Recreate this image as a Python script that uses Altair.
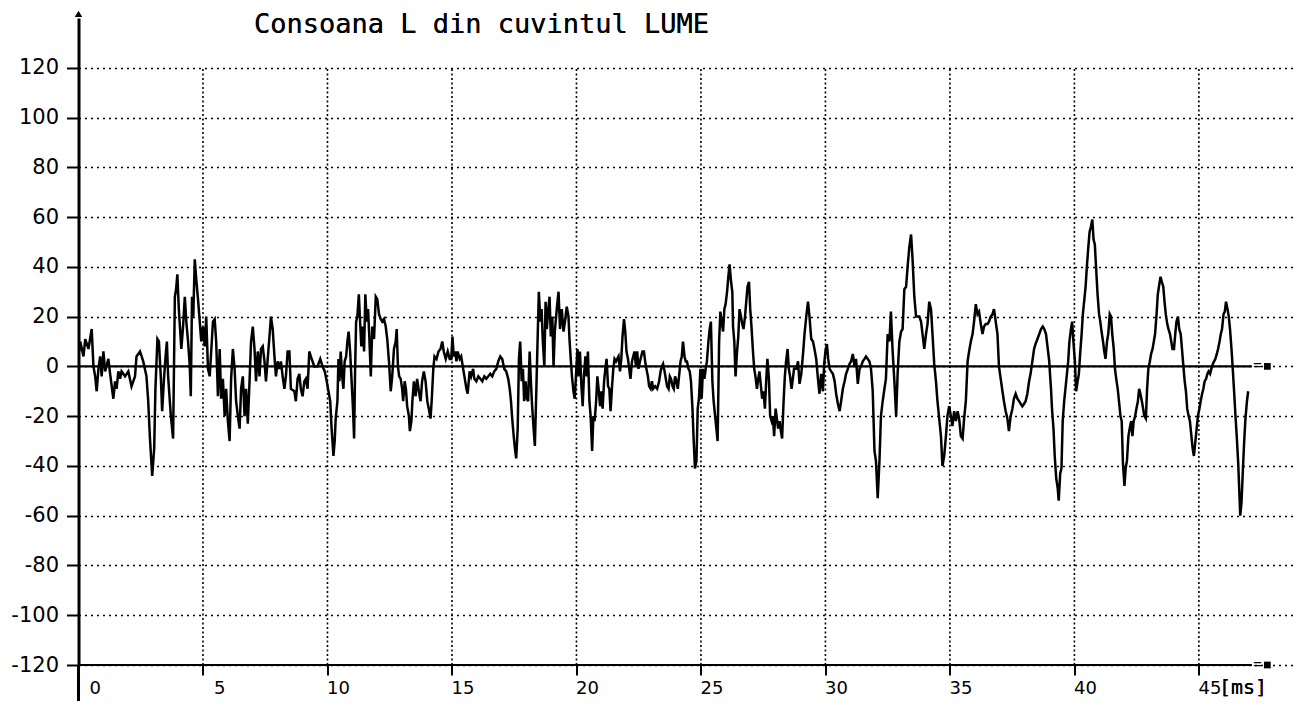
import altair as alt
import pandas as pd

# ---- waveform samples: time [ms] and amplitude ----
t_seg1 = [0.03,0.07,0.2,0.27,0.4,0.53,0.6,0.67,0.73,0.8,
          0.87,0.93,1.0,1.07,1.2,1.27,1.4,1.47,1.53,1.6,
          1.67,1.73,1.87,2.0,2.13,2.27,2.33,2.47,2.6,2.73,
          2.8,2.87,2.96,3.04,3.09,3.17,3.23,3.31,3.36,3.44,
          3.49,3.55,3.6,3.71,3.8,3.87,3.92,3.97,4.03,4.13,
          4.2,4.27,4.33,4.4,4.47,4.51,4.56,4.61,4.67,4.73,
          4.8,4.87,4.93,5.0,5.07,5.13,5.2,5.27,5.33,5.4,
          5.47,5.53,5.6,5.67,5.73,5.8,5.87,5.93,6.0,6.07,
          6.13,6.2,6.27,6.33,6.4,6.47,6.53,6.6,6.67,6.73,
          6.8,6.87,6.93,7.0,7.07,7.13,7.2,7.27,7.33,7.4,
          7.47,7.53,7.6,7.67,7.73,7.8,7.87,7.93,8.0,8.07,
          8.13,8.2,8.27,8.33,8.4,8.47,8.53,8.67,8.73,8.8,
          8.87,8.93,9.0,9.07,9.13,9.2,9.27,9.33,9.47]
v_seg1 = [6,10,4,11,7,15,0,-4,-10,-1,
          4,-4,6,-2,3,-3,-13,-6,-9,-2,
          -5,-2,-4,-2,-8,-4,4,6,2,-4,
          -14,-29,-44,-33,-9,11,10,-5,-18,-4,
          3,10,-4,-20,-29,28,31,37,23,7,
          16,28,18,10,0,-12,28,20,43,35,
          27,18,10,16,8,20,-1,-4,6,18,
          19,10,-12,7,-13,-5,-20,-9,-22,-30,
          -5,7,-1,-14,-20,-25,-9,-4,-20,-9,
          -23,-6,10,16,7,-6,6,-4,7,8,
          2,-6,3,12,20,15,4,-4,2,-1,
          2,-4,-9,-4,6,6,-9,-10,-14,-5,
          -3,-9,-12,-6,-5,-9,6,4,0]

t_seg2 = [9.6,9.71,9.8,9.89,9.97,10.04,10.11,10.16,10.24,10.29,
          10.33,10.4,10.44,10.48,10.53,10.59,10.64,10.69,10.75,10.8,
          10.85,10.91,10.96,11.02,11.07,11.11,11.15,11.2,11.26,11.31,
          11.36,11.42,11.47,11.52,11.58,11.63,11.68,11.74,11.8,11.87,
          11.94,12.0,12.07,12.14,12.2,12.27,12.34,12.4,12.47,12.54,
          12.6,12.67,12.74,12.78,12.83,12.88,12.94,13.0,13.04,13.1,
          13.15,13.2,13.27,13.31,13.37,13.41,13.47,13.54,13.6,13.67,
          13.74,13.8,13.87,13.94,14.01,14.07,14.14,14.19,14.25,14.3,
          14.38,14.46,14.54,14.61,14.67,14.75,14.83,14.91,14.97,15.02,
          15.07,15.13,15.18,15.23,15.31,15.37,15.45,15.5,15.58,15.63,
          15.71,15.77,15.85,15.9,15.98,16.06,16.14,16.22,16.3,16.38,
          16.46,16.54,16.62,16.7,16.78,16.86,16.94,17.02,17.1,17.18,
          17.26,17.32,17.37,17.42,17.48,17.53,17.58,17.64,17.69,17.74,
          17.8,17.85,17.9,17.96,18.01,18.06,18.12,18.17,18.22,18.28,
          18.33,18.39,18.44,18.49,18.55,18.6,18.65,18.71,18.76,18.81,
          18.87,18.92,18.97,19.03,19.08,19.13]
v_seg2 = [0,3,0,-2,-6,-10,-14,-24,-36,-30,
          -21,-14,3,-6,6,-4,-9,2,4,10,
          14,6,-4,-16,-29,-1,18,20,29,18,
          8,16,6,29,18,23,12,-4,16,11,
          28,27,21,19,18,19,16,11,2,-10,
          -4,7,10,15,0,-4,-5,-9,-14,-6,
          -9,-16,-20,-26,-22,-14,-6,-12,-5,-10,
          -14,-6,-2,-6,-14,-17,-21,-13,-1,4,
          3,6,7,10,6,3,6,3,3,12,
          4,6,2,6,3,4,-1,-4,-9,-11,
          -2,-4,-1,-5,-6,-4,-5,-6,-4,-5,
          -4,-3,-4,-2,-1,2,4,3,-1,-2,
          -5,-9,-14,-21,-28,-33,-37,-25,3,10,
          -6,-1,-14,-6,-13,-14,6,-6,-16,-25,
          -32,-9,11,30,18,23,10,0,26,15,
          23,28,12,20,0,14]

t_seg3 = [19.21,19.28,19.34,19.41,19.48,19.54,19.61,19.68,19.72,19.77,
          19.82,19.88,19.93,19.98,20.04,20.09,20.14,20.2,20.25,20.3,
          20.36,20.41,20.46,20.52,20.57,20.63,20.68,20.73,20.79,20.84,
          20.89,20.95,21.0,21.05,21.11,21.16,21.21,21.27,21.32,21.37,
          21.43,21.48,21.53,21.59,21.64,21.69,21.75,21.8,21.85,21.91,
          21.96,22.01,22.07,22.12,22.17,22.23,22.28,22.33,22.39,22.44,
          22.49,22.55,22.6,22.65,22.71,22.76,22.81,22.87,22.92,22.98,
          23.03,23.08,23.16,23.24,23.32,23.38,23.43,23.48,23.54,23.59,
          23.64,23.7,23.75,23.8,23.86,23.91,23.96,24.02,24.07,24.12,
          24.18,24.23,24.28,24.34,24.39,24.44,24.5,24.55,24.6,24.66,
          24.71,24.76,24.82,24.87,24.92,24.98,25.03,25.08,25.14,25.19,
          25.24,25.3,25.35,25.4,25.46,25.51,25.57,25.62,25.67,25.73,
          25.78,25.83,25.89,25.94,25.99,26.05,26.1,26.15,26.21,26.26,
          26.29,26.34,26.39,26.45,26.5,26.55,26.61,26.66,26.71,26.77,
          26.82,26.87,26.93,26.98,27.03,27.09,27.14,27.19,27.25,27.3,
          27.35,27.41,27.46,27.51,27.57,27.62,27.67,27.73,27.78,27.84,
          27.89,27.94,28.0,28.05,28.1,28.16,28.21,28.26,28.32,28.37,
          28.42,28.48,28.53,28.58,28.64,28.69,28.74]
v_seg3 = [23,30,15,23,14,18,24,20,11,3,
          -4,-10,-13,-4,7,-4,6,-8,-16,-4,
          4,-4,6,-14,-20,-34,-20,-22,-14,-4,
          -9,-16,-10,-17,-6,-1,3,-8,-9,-18,
          -8,-1,3,2,3,4,-2,3,12,19,
          14,6,3,-1,-5,2,4,6,0,6,
          -1,2,4,6,6,2,-1,-4,-8,-9,
          -6,-9,-8,-9,-6,-2,0,1,-2,-5,
          -8,-9,-4,-5,-8,-9,-4,-6,-9,-4,
          2,4,10,4,2,2,-1,-2,-6,-17,
          -30,-41,-38,-17,-13,-1,-13,-1,-5,-1,
          2,10,15,18,-6,-14,-20,-25,-30,10,
          22,18,14,23,25,30,36,41,34,30,
          16,10,-4,6,12,23,20,17,15,20,
          26,32,34,23,16,6,-1,-4,-9,-5,
          -2,-8,-13,-10,-17,-6,3,-5,-20,-22,
          -20,-28,-17,-21,-25,-22,-26,-29,-14,-4,
          2,7,-1,-4,-9,-5,-1]

t_seg4 = [28.83,28.9,28.96,29.03,29.1,29.16,29.23,29.3,29.36,29.43,
          29.5,29.56,29.63,29.7,29.76,29.83,29.9,29.95,30.0,30.06,
          30.11,30.17,30.23,30.3,30.37,30.43,30.5,30.57,30.63,30.7,
          30.77,30.83,30.9,30.97,31.03,31.1,31.17,31.23,31.3,31.37,
          31.43,31.5,31.57,31.63,31.7,31.77,31.83,31.9,31.97,32.03,
          32.1,32.17,32.23,32.3,32.37,32.43,32.5,32.57,32.63,32.7,
          32.77,32.84,32.9,32.97,33.04,33.1,33.17,33.24,33.3,33.37,
          33.44,33.5,33.57,33.64,33.7,33.77,33.84,33.9,33.97,34.04,
          34.1,34.17,34.24,34.3,34.37,34.44,34.5,34.57,34.64,34.7,
          34.77,34.84,34.9,34.97,35.04,35.1,35.17,35.24,35.31,35.37,
          35.44,35.51,35.57,35.64,35.71,35.77,35.84,35.91,35.97,36.04,
          36.11,36.17,36.24,36.31,36.37,36.44,36.51,36.57,36.64,36.71,
          36.77,36.84,36.91,36.97,37.04,37.11,37.17,37.24,37.31,37.37,
          37.44,37.51,37.57,37.64,37.71,37.78,37.84,37.91,37.98,38.04,
          38.11,38.18,38.24,38.31,38.38,38.44]
v_seg4 = [-1,2,-7,-3,5,13,20,26,20,11,
          10,7,3,-5,-11,-3,-10,1,6,9,
          3,-1,-2,-3,-6,-11,-15,-18,-14,-9,
          -6,-3,-1,1,2,5,0,3,-7,-1,
          0,2,3,4,3,2,-1,-10,-34,-38,
          -53,-38,-20,-14,-9,-5,13,10,22,6,
          -6,-20,-3,10,14,15,31,32,40,48,
          53,43,28,20,20,20,18,13,7,13,
          17,26,23,13,1,-6,-14,-21,-28,-40,
          -36,-28,-20,-16,-20,-24,-18,-22,-18,-21,
          -28,-29,-21,-14,2,6,10,13,18,25,
          21,22,17,13,16,17,17,18,20,21,
          23,18,13,0,-5,-10,-14,-18,-21,-26,
          -20,-17,-13,-11,-13,-14,-15,-16,-15,-14,
          -11,-6,-3,2,7,9]

t_seg5 = [38.59,38.66,38.73,38.79,38.86,38.93,38.99,39.02,39.06,39.1,
          39.16,39.21,39.27,39.33,39.37,39.43,39.48,39.53,39.59,39.64,
          39.7,39.75,39.8,39.86,39.91,39.96,40.02,40.07,40.13,40.18,
          40.23,40.29,40.34,40.39,40.45,40.5,40.56,40.61,40.66,40.72,
          40.77,40.82,40.88,40.93,40.99,41.04,41.09,41.15,41.2,41.25,
          41.31,41.36,41.42,41.47,41.52,41.58,41.63,41.68,41.74,41.79,
          41.85,41.9,41.95,42.01,42.06,42.11,42.17,42.22,42.28,42.33,
          42.38,42.44,42.49,42.55,42.6,42.65,42.71,42.76,42.81,42.87,
          42.92,42.97,43.03,43.08,43.14,43.19,43.24,43.3,43.35,43.41,
          43.46,43.51,43.57,43.62,43.67,43.73,43.78,43.84,43.89,43.94,
          44.0,44.05,44.1,44.16,44.21,44.27,44.32,44.37,44.43,44.48,
          44.53,44.59,44.64,44.7,44.75,44.8,44.86,44.91,44.96,45.02,
          45.07,45.13,45.18,45.23,45.29,45.34,45.39,45.45,45.5,45.56,
          45.61,45.66,45.72,45.77,45.83,45.88,45.93,45.99,46.04,46.09,
          46.15,46.2,46.25,46.31,46.36,46.42,46.47,46.52,46.58,46.63,
          46.66,46.71,46.77,46.82,46.87,46.93,46.98]
v_seg5 = [13,15,16,15,13,7,2,-3,-9,-17,
          -25,-36,-45,-49,-54,-43,-41,-22,-14,-9,
          -3,2,10,15,18,10,2,-10,-6,-3,
          5,13,21,26,32,40,48,54,56,59,
          51,49,38,29,21,18,14,10,6,3,
          10,13,21,20,13,7,-1,-5,-9,-14,
          -20,-22,-39,-48,-41,-38,-28,-25,-22,-28,
          -22,-20,-17,-14,-9,-11,-14,-17,-20,-21,
          -9,-1,2,5,7,10,13,21,29,33,
          36,34,32,26,21,17,15,13,10,7,
          7,13,18,20,15,13,7,1,-6,-10,
          -17,-20,-22,-28,-33,-36,-30,-25,-20,-17,
          -14,-11,-9,-6,-5,-3,-2,-3,-1,1,
          2,3,5,7,10,13,15,21,22,26,
          23,20,15,7,-1,-11,-20,-28,-39,-52,
          -60,-55,-41,-30,-21,-14,-10]

# ---- axes / labels ----
title_text = "Consoana L din cuvintul LUME"
x_ticks = [0, 5, 10, 15, 20, 25, 30, 35, 40, 45]
x_grid = [5, 10, 15, 20, 25, 30, 35, 40, 45]
y_ticks = [-120, -100, -80, -60, -40, -20, 0, 20, 40, 60, 80, 100, 120]
solid_levels = [0, -120]
unit_text = "[ms]"

t_all = []
v_all = []
for ts, vs in [(t_seg1, v_seg1), (t_seg2, v_seg2), (t_seg3, v_seg3),
               (t_seg4, v_seg4), (t_seg5, v_seg5)]:
    assert len(ts) == len(vs), (len(ts), len(vs))
    t_all += ts
    v_all += vs

wave = pd.DataFrame({"t": t_all, "v": v_all})
grid_df = pd.DataFrame({"t": x_grid})
solid_df = pd.DataFrame({"v": solid_levels})

W, H = 1215, 647
X_DOM = [0, 48.8]
Y_DOM = [-120, 140]
xs = alt.Scale(domain=X_DOM, nice=False, zero=False)
ys = alt.Scale(domain=Y_DOM, nice=False, zero=False)
px_per_ms = W / (X_DOM[1] - X_DOM[0])
solid_end = 47.13

line = alt.Chart(wave).mark_line(color="black", strokeWidth=2.5,
                                 strokeJoin="miter").encode(
    x=alt.X("t:Q", scale=xs, axis=alt.Axis(
        values=x_ticks, title=None, domain=False, grid=False,
        tickSize=10, tickWidth=2, tickColor="black",
        labelAlign="right", labelOffset=22, labelBaseline="top",
        labelPadding=4, labelFont="DejaVu Sans", labelFontSize=18,
        labelColor="black", labelFlush=False, labelOverlap=False)),
    y=alt.Y("v:Q", scale=ys, axis=alt.Axis(
        values=y_ticks, title=None, domain=True, domainWidth=3,
        domainColor="black", tickSize=12, tickWidth=2, tickColor="black",
        grid=True, gridColor="black", gridDash=[2, 4], gridWidth=1.6,
        labelExpr="'' + datum.value", labelFont="DejaVu Sans",
        labelFontSize=21, labelPadding=8, labelColor="black",
        labelFlush=False, labelOverlap=False)),
)

vgrid = alt.Chart(grid_df).mark_rule(color="black", strokeWidth=1.6,
                                     strokeDash=[2, 2.5]).encode(
    x=alt.X("t:Q", scale=xs), y=alt.datum(-120), y2=alt.datum(120))

solid = alt.Chart(solid_df).mark_rule(color="black", strokeWidth=2.2).encode(
    y=alt.Y("v:Q", scale=ys), x=alt.datum(0), x2=alt.datum(solid_end))

ends = alt.Chart(solid_df).mark_square(color="black", size=45, opacity=1).encode(
    y=alt.Y("v:Q", scale=ys), x=alt.value((47.75 - X_DOM[0]) * px_per_ms))

eqs = alt.Chart(solid_df).mark_text(text="=", font="DejaVu Sans Mono",
                                    fontSize=14, color="black").encode(
    y=alt.Y("v:Q", scale=ys), x=alt.value((47.35 - X_DOM[0]) * px_per_ms))

axis_ext = alt.Chart(solid_df).mark_rule(color="black", strokeWidth=3).encode(
    x=alt.value(0), y=alt.value(H), y2=alt.value(H + 36))

arrow = alt.Chart(solid_df).mark_point(shape="triangle-up", filled=True,
                                       color="black", size=50, opacity=1).encode(
    x=alt.value(0), y=alt.value(-4))

title = alt.Chart(solid_df).mark_text(
    text=title_text, font="DejaVu Sans Mono", fontSize=27, color="black",
    align="center", baseline="middle").encode(
    x=alt.value(403), y=alt.value(7))

unit = alt.Chart(solid_df).mark_text(
    text=unit_text, font="DejaVu Sans Mono", fontSize=20, color="black",
    align="left", baseline="top").encode(
    x=alt.value((45 - X_DOM[0]) * px_per_ms + 20), y=alt.value(H + 13))

chart = alt.layer(vgrid, line, solid, eqs, ends, axis_ext, arrow, title, unit).properties(
    width=W, height=H,
    autosize=alt.AutoSizeParams(type="none"),
    padding={"left": 70.5, "top": 10, "right": 0, "bottom": 40},
    background="white",
).configure_view(stroke=None)

chart.save("out.html", embed_options={"renderer": "svg", "actions": False})
